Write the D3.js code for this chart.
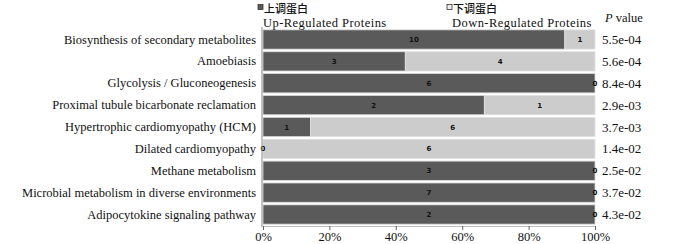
<!DOCTYPE html>
<html><head><meta charset="utf-8">
<script src="https://cdn.jsdelivr.net/npm/d3@7"></script>
<style>body{margin:0;background:#fff;}svg{display:block;}</style>
</head><body>
<svg id="c" width="700" height="244"></svg>
<script>
const categories = ["Biosynthesis of secondary metabolites","Amoebiasis","Glycolysis / Gluconeogenesis","Proximal tubule bicarbonate reclamation","Hypertrophic cardiomyopathy (HCM)","Dilated cardiomyopathy","Methane metabolism","Microbial metabolism in diverse environments","Adipocytokine signaling pathway"];
const upValues = [10,3,6,2,1,0,3,7,2];
const downValues = [1,4,0,1,6,6,0,0,0];
const pValues = ["5.5e-04","5.6e-04","8.4e-04","2.9e-03","3.7e-03","1.4e-02","2.5e-02","3.7e-02","4.3e-02"];
const xTicks = [0,0.2,0.4,0.6,0.8,1];
const legendCN = ["上调蛋白","下调蛋白"];
const legendEN = ["Up-Regulated Proteins","Down-Regulated Proteins"];

const svg = d3.select("#c");
const serif = "'Liberation Serif', 'DejaVu Serif', serif";
const x = d3.scaleLinear().domain([0,1]).range([263,595]);
const y = d3.scaleBand().domain(categories).range([29,225]).paddingInner(0.12).paddingOuter(0.04);
const dark = "#5a5a5a", light = "#cccccc";

const data = categories.map((c,i)=>{const t=upValues[i]+downValues[i];return {c,up:upValues[i],down:downValues[i],fu:upValues[i]/t,p:pValues[i]};});

const rows = svg.append("g").selectAll("g").data(data).join("g");
rows.append("rect").attr("x",x(0)).attr("y",d=>y(d.c)).attr("width",d=>x(d.fu)-x(0)).attr("height",y.bandwidth())
  .attr("fill",dark).attr("stroke","#d8d8d8").attr("stroke-width",0.8);
rows.append("rect").attr("x",d=>x(d.fu)).attr("y",d=>y(d.c)).attr("width",d=>x(1)-x(d.fu)).attr("height",y.bandwidth())
  .attr("fill",light).attr("stroke","#e0e0e0").attr("stroke-width",0.8);
rows.append("text").attr("x",d=>(x(0)+x(d.fu))/2).attr("y",d=>y(d.c)+y.bandwidth()/2+2.5)
  .attr("text-anchor","middle").attr("font-family","'DejaVu Sans',sans-serif").attr("font-weight","bold").attr("font-size",7).attr("fill","#111").text(d=>d.up);
rows.append("text").attr("x",d=>(x(d.fu)+x(1))/2).attr("y",d=>y(d.c)+y.bandwidth()/2+2.5)
  .attr("text-anchor","middle").attr("font-family","'DejaVu Sans',sans-serif").attr("font-weight","bold").attr("font-size",7).attr("fill","#111").text(d=>d.down);
// category labels
rows.append("text").attr("x",256).attr("y",d=>y(d.c)+y.bandwidth()/2+4)
  .attr("text-anchor","end").attr("font-family",serif).attr("font-size",12.5).attr("fill","#111").text(d=>d.c);
// p values
rows.append("text").attr("x",602).attr("y",d=>y(d.c)+y.bandwidth()/2+4.5)
  .attr("font-family",serif).attr("font-size",13).attr("fill","#111").text(d=>d.p);

// y axis line
svg.append("line").attr("x1",262).attr("x2",262).attr("y1",27).attr("y2",227).attr("stroke","#888").attr("stroke-width",1);
// x axis
const xa = svg.append("g").attr("transform","translate(0,226)")
  .call(d3.axisBottom(x).tickValues(xTicks).tickFormat(d3.format(".0%")).tickSize(4));
xa.select(".domain").attr("stroke","#bbb");
xa.selectAll(".tick line").attr("stroke","#666");
xa.selectAll(".tick text").attr("font-family",serif).attr("font-size",12.5).attr("fill","#111").attr("dy","0.6em");

// legend
const lx = [258,447];
[0,1].forEach(i=>{
  svg.append("rect").attr("x",lx[i]).attr("y",4.5).attr("width",5).attr("height",5)
    .attr("fill",i===0?dark:"#eee").attr("stroke","#333").attr("stroke-width",0.8);
  svg.append("text").attr("x",lx[i]+6).attr("y",12.9).attr("font-family","'Noto Sans CJK SC',sans-serif").attr("font-size",11).attr("font-weight",500).attr("fill","#111").text(legendCN[i]);
  svg.append("text").attr("x",lx[i]+5).attr("y",27.2).attr("font-family",serif).attr("font-size",12.5).attr("letter-spacing",0.45).attr("fill","#111").text(legendEN[i]);
});
const pv = svg.append("text").attr("x",605).attr("y",22).attr("font-family",serif).attr("font-size",12.5).attr("fill","#111");
pv.append("tspan").attr("font-style","italic").text("P");
pv.append("tspan").text(" value");
</script>
</body></html>
